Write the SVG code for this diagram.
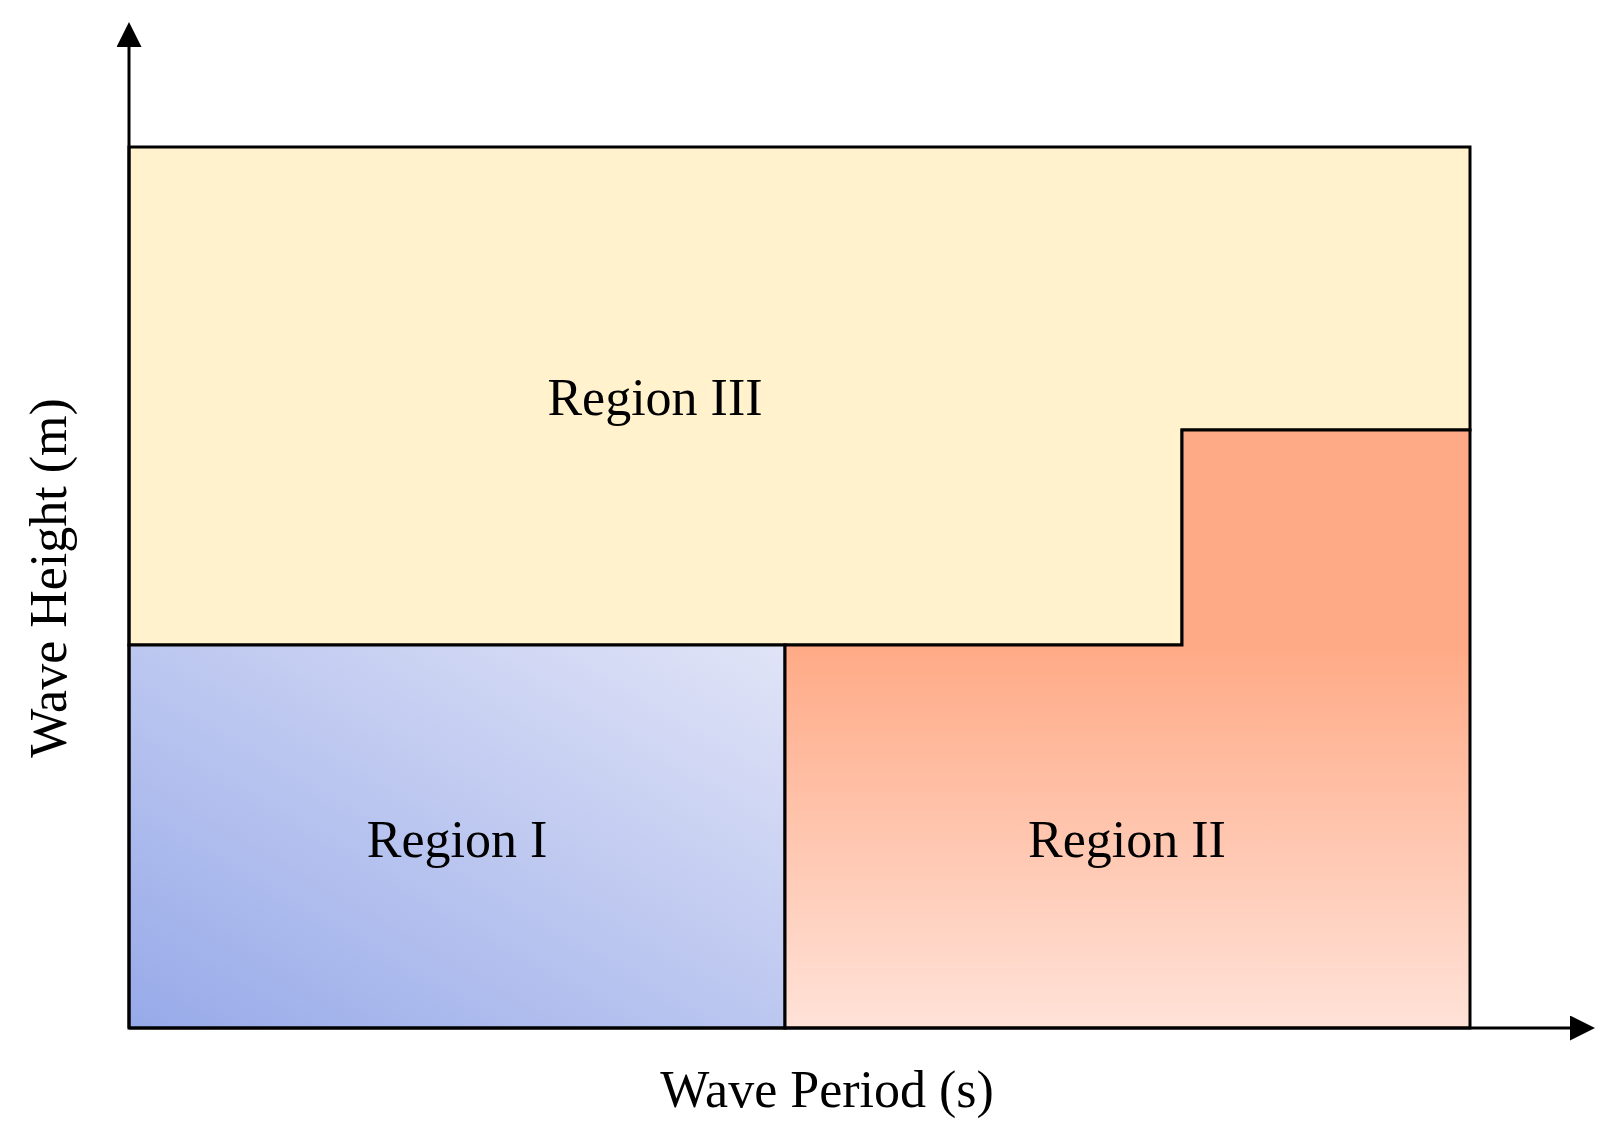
<svg xmlns="http://www.w3.org/2000/svg" width="1618" height="1145" viewBox="0 0 1618 1145">
<style>
.shape{stroke:#000;stroke-width:3;stroke-linejoin:miter}
.lbl{font-family:"Liberation Serif","Times New Roman",serif;font-size:52px;fill:#000;text-anchor:middle}
.axis{stroke:#000;stroke-width:3;fill:none}
</style>
<defs>
<linearGradient id="g1" x1="0" y1="1" x2="1" y2="0">
<stop offset="0" stop-color="#97AAE9"/>
<stop offset="1" stop-color="#E1E4F7"/>
</linearGradient>
<linearGradient id="g2" gradientUnits="userSpaceOnUse" x1="0" y1="645" x2="0" y2="1028">
<stop offset="0" stop-color="#FFAA86"/>
<stop offset="1" stop-color="#FFE2D8"/>
</linearGradient>
<marker id="arr" viewBox="0 0 25 25" refX="0" refY="12.5" markerWidth="25" markerHeight="25" markerUnits="userSpaceOnUse" orient="auto">
<path d="M0,0 L25,12.5 L0,25 Z" fill="#000"/>
</marker>
</defs>
<rect width="1618" height="1145" fill="#fff"/>
<g id="region3">
<path class="shape" fill="#FFF2CC" d="M129,147 H1470 V430 H1182 V645 H129 Z"/>
<text class="lbl" x="655" y="415">Region III</text>
</g>
<g id="region1">
<rect class="shape" fill="url(#g1)" x="129" y="645" width="656" height="383"/>
<text class="lbl" x="457" y="857">Region I</text>
</g>
<g id="region2">
<path class="shape" fill="url(#g2)" d="M785,645 H1182 V430 H1470 V1028 H785 Z"/>
<text class="lbl" x="1127" y="857">Region II</text>
</g>
<g id="connectors">
<line class="axis" x1="129" y1="1028" x2="129" y2="47" marker-end="url(#arr)"/>
<line class="axis" x1="129" y1="1028" x2="1570" y2="1028" marker-end="url(#arr)"/>
</g>
<g id="labels">
<text class="lbl" x="827" y="1107">Wave Period (s)</text>
<text class="lbl" transform="translate(66,578) rotate(-90)">Wave Height (m)</text>
</g>
</svg>
